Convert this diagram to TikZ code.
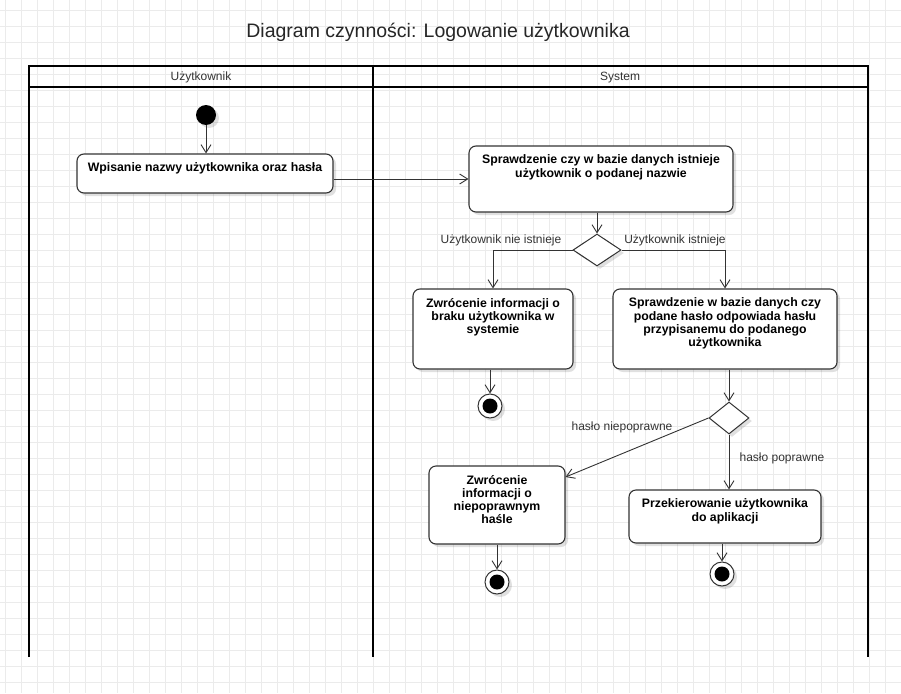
\documentclass[tikz,border=0pt]{standalone}
\usepackage{fontspec}
\setmainfont{Liberation Sans}
\usetikzlibrary{shapes.geometric,arrows.meta,shadows}
\definecolor{linegray}{HTML}{333333}
\definecolor{gridgray}{HTML}{EBEBEB}
\newcommand{\acttext}[3]{\parbox[c][#2][t]{#1}{\centering\vspace{9pt}#3}}

\begin{document}
\begin{tikzpicture}[x=1pt,y=-1pt,
  actbox/.style={draw=linegray, fill=white, rounded corners=7pt, line width=1.1pt, inner sep=0pt,
    font=\fontsize{12.3}{13.3}\selectfont\bfseries, text=black,
    drop shadow={shadow xshift=3pt, shadow yshift=-3pt, opacity=0.12, fill=black}},
  decision/.style={diamond, draw=linegray, fill=white, line width=1pt, inner sep=0pt,
    drop shadow={shadow xshift=3pt, shadow yshift=-3pt, opacity=0.12, fill=black}},
  startnode/.style={circle, fill=black, minimum size=20pt, inner sep=0pt,
    drop shadow={shadow xshift=3pt, shadow yshift=-3pt, opacity=0.12, fill=black}},
  endnode/.style={circle, draw=linegray, fill=white, line width=1pt, minimum size=24pt, inner sep=0pt,
    drop shadow={shadow xshift=3pt, shadow yshift=-3pt, opacity=0.12, fill=black},
    path picture={\fill[black] (path picture bounding box.center) circle (7.5pt);}},
  flow/.style={draw=linegray, line width=0.9pt, -{Straight Barb[length=8pt,width=10pt,line width=0.9pt]}},
  guard/.style={font=\fontsize{12}{14}\selectfont, text=linegray, inner sep=1pt},
  lane/.style={line width=2pt, black},
  gridline/.style={gridgray, line width=0.8pt}]

  % tlo
  \useasboundingbox (0,0) rectangle (901,693);
  \fill[white] (0,0) rectangle (901,693);
  \foreach \gx in {0,...,56} \draw[gridline] (5.7+16*\gx,0) -- (5.7+16*\gx,693);
  \foreach \gy in {0,...,43} \draw[gridline] (0,10.5+16*\gy) -- (901,10.5+16*\gy);

  % tytul i tory
  \node[font=\fontsize{19.5}{23}\selectfont, text=black!85] (title) at (438,32) {Diagram czynności: Logowanie użytkownika};
  \draw[lane] (29,657) -- (29,66) -- (868,66) -- (868,657);
  \draw[lane] (29,87) -- (868,87);
  \draw[lane] (373,66) -- (373,657);
  \node[guard, anchor=base] (laneU) at (201,80) {Użytkownik};
  \node[guard, anchor=base] (laneS) at (620,80) {System};

  % Wezly
  \node[startnode] (start) at (206,115) {};
  \node[actbox] (b1) at (205,173.5) {\acttext{256pt}{39pt}{Wpisanie nazwy użytkownika oraz hasła}};
  \node[actbox] (b2) at (601,179) {\acttext{264pt}{66pt}{Sprawdzenie czy w bazie danych istnieje\\użytkownik o podanej nazwie}};
  \node[decision, minimum width=48pt, minimum height=32pt] (d1) at (597,250) {};
  \node[actbox] (b3) at (493,329) {\acttext{160pt}{80pt}{Zwrócenie informacji o\\braku użytkownika w\\systemie}};
  \node[actbox] (b4) at (725,329) {\acttext{224pt}{80pt}{Sprawdzenie w bazie danych czy\\podane hasło odpowiada hasłu\\przypisanemu do podanego\\użytkownika}};
  \node[endnode] (e1) at (490,406) {};
  \node[decision, minimum width=40pt, minimum height=32pt] (d2) at (729,418) {};
  \node[actbox] (b5) at (497,505) {\acttext{136pt}{78pt}{Zwrócenie\\informacji o\\niepoprawnym\\haśle}};
  \node[actbox] (b6) at (725,516.5) {\acttext{192pt}{53pt}{Przekierowanie użytkownika\\do aplikacji}};
  \node[endnode] (e2) at (497,582) {};
  \node[endnode] (e3) at (722,574) {};

  % Przejscia
  \draw[flow] (start) -- (start |- b1.north);
  \draw[flow] (b1.east |- b2.west) -- (b2.west);
  \draw[flow] (b2.south -| d1.north) -- (d1.north);
  \draw[flow] (d1.west) -| (b3.north);
  \draw[flow] (d1.east) -| (b4.north);
  \draw[flow] (b3.south -| e1.north) -- (e1.north);
  \draw[flow] (b4.south -| d2.north) -- (d2.north);
  \draw[flow] (d2.west) -- ([yshift=28pt]b5.east);
  \draw[flow] (d2.south) -- (d2.south |- b6.north);
  \draw[flow] (b5.south -| e2.north) -- (e2.north);
  \draw[flow] (b6.south -| e3.north) -- (e3.north);

  % Etykiety
  \node[guard] (g1) at (501,240) {Użytkownik nie istnieje};
  \node[guard] (g2) at (675,240) {Użytkownik istnieje};
  \node[guard] (g3) at (622,427) {hasło niepoprawne};
  \node[guard] (g4) at (782,458) {hasło poprawne};
\end{tikzpicture}
\end{document}
